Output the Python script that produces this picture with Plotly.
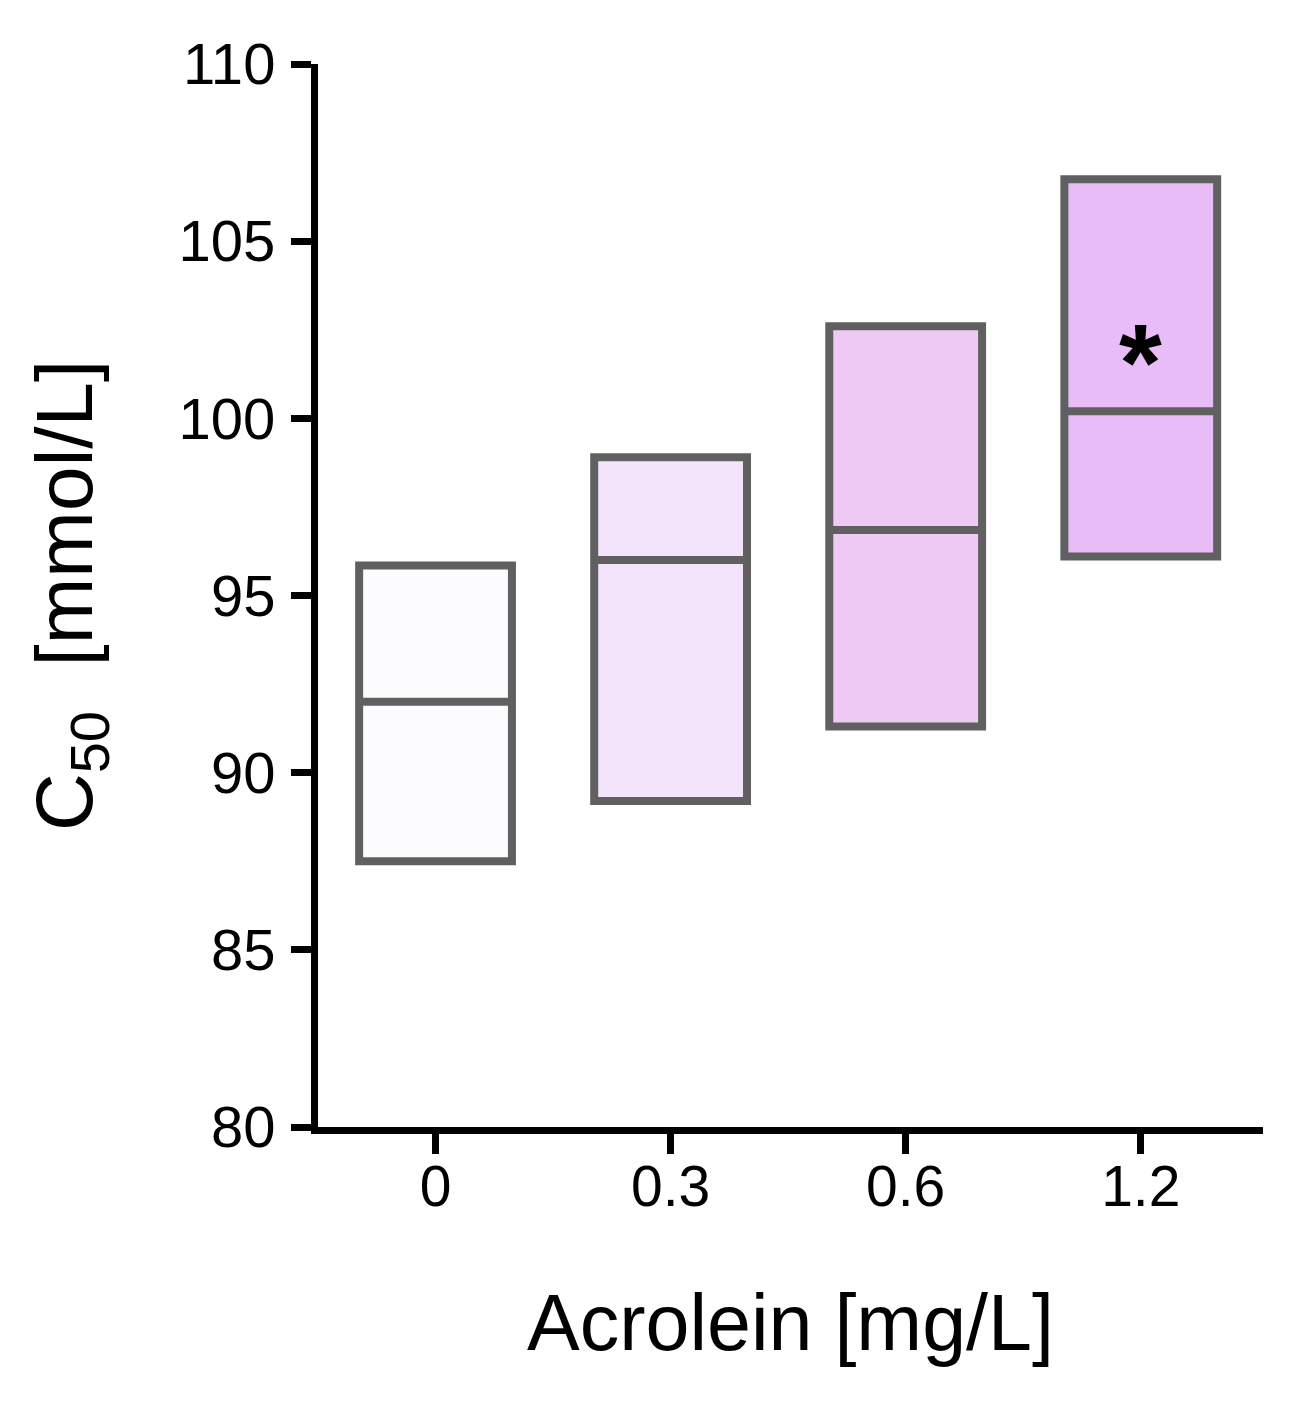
import plotly.graph_objects as go

categories = ["0", "0.3", "0.6", "1.2"]
q1_vals = [87.5, 89.2, 91.3, 96.1]
median_vals = [92.0, 96.0, 96.85, 100.2]
q3_vals = [95.85, 98.9, 102.6, 106.75]
fill_colors = ["#fcfcff", "#f4e4fb", "#eecaf5", "#e8bcf7"]
y_ticks = [80, 85, 90, 95, 100, 105, 110]
star_category = 3
star_y = 101.6

fig = go.Figure()
for i, cat in enumerate(categories):
    fig.add_trace(go.Box(
        x=[i], q1=[q1_vals[i]], median=[median_vals[i]], q3=[q3_vals[i]],
        lowerfence=[q1_vals[i]], upperfence=[q3_vals[i]],
        width=0.65, whiskerwidth=0,
        fillcolor=fill_colors[i],
        line=dict(color="#606060", width=8),
        boxpoints=False, showlegend=False, hoverinfo="skip",
    ))

fig.add_annotation(x=star_category, y=star_y, text="<b>*</b>", showarrow=False,
                   font=dict(family="Liberation Sans", size=110, color="black"),
                   xref="x", yref="y", yanchor="middle")

fig.update_layout(
    width=1306, height=1402,
    margin=dict(l=318, r=43, t=64, b=275),
    paper_bgcolor="white", plot_bgcolor="white",
    font=dict(family="Liberation Sans", color="black"),
    boxmode="overlay",
    xaxis=dict(
        range=[-0.5, 3.52],
        tickvals=list(range(len(categories))), ticktext=categories,
        showline=True, linecolor="black", linewidth=7,
        ticks="outside", ticklen=20, tickwidth=7, tickcolor="black",
        tickfont=dict(size=57), ticklabelstandoff=-16,
        showgrid=False, zeroline=False,
        title=dict(text="Acrolein [mg/L]", font=dict(size=79), standoff=80),
    ),
    yaxis=dict(
        range=[80, 110],
        tickvals=y_ticks,
        showline=True, linecolor="black", linewidth=7,
        ticks="outside", ticklen=20, tickwidth=7, tickcolor="black",
        tickfont=dict(size=58), ticklabelstandoff=4,
        showgrid=False, zeroline=False,
        title=dict(text="C<sub>50</sub>  [mmol/L]", font=dict(size=80), standoff=62),
    ),
)

fig.write_html("out.html")
